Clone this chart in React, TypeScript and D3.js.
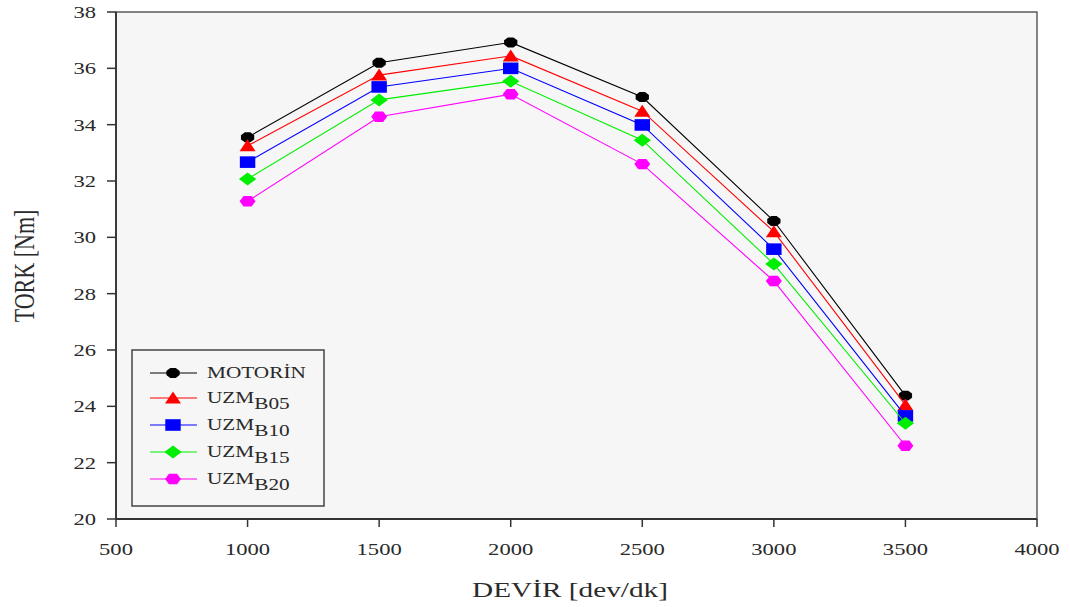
import React from "react";
import * as d3 from "d3";

const rpm = [1000, 1500, 2000, 2500, 3000, 3500];
const motorin = [33.55, 36.2, 36.92, 34.98, 30.58, 24.38];
const uzmB05 = [33.25, 35.76, 36.44, 34.48, 30.2, 24.05];
const uzmB10 = [32.67, 35.34, 36.0, 33.99, 29.58, 23.66];
const uzmB15 = [32.07, 34.88, 35.54, 33.45, 29.05, 23.4];
const uzmB20 = [31.28, 34.28, 35.08, 32.6, 28.45, 22.6];
const xTicks = [500, 1000, 1500, 2000, 2500, 3000, 3500, 4000];
const yTicks = [20, 22, 24, 26, 28, 30, 32, 34, 36, 38];

type Shape = "circle" | "triangle" | "square" | "diamond" | "hexagon";
const series: { name: string; sub: string; values: number[]; color: string; shape: Shape }[] = [
  { name: "MOTORİN", sub: "", values: motorin, color: "#000000", shape: "circle" },
  { name: "UZM", sub: "B05", values: uzmB05, color: "#ff0000", shape: "triangle" },
  { name: "UZM", sub: "B10", values: uzmB10, color: "#0000ff", shape: "square" },
  { name: "UZM", sub: "B15", values: uzmB15, color: "#00ee00", shape: "diamond" },
  { name: "UZM", sub: "B20", values: uzmB20, color: "#ff00ff", shape: "hexagon" },
];

const W = 1070;
const H = 607;
const left = 116;
const right = 1037;
const top = 12;
const bottom = 519;
// glyphs and markers are drawn slightly wide
const SX = 1.33;

const x = d3.scaleLinear().domain([500, 4000]).range([left, right]);
const y = d3.scaleLinear().domain([20, 38]).range([bottom, top]);

function polygon(n: number, r: number, rot: number) {
  const pts: string[] = [];
  for (let i = 0; i < n; i++) {
    const a = rot + (i * 2 * Math.PI) / n;
    pts.push(`${(r * Math.cos(a)).toFixed(2)},${(r * Math.sin(a)).toFixed(2)}`);
  }
  return "M" + pts.join("L") + "Z";
}

function markerPath(shape: Shape) {
  switch (shape) {
    case "circle":
      return polygon(8, 5.4, Math.PI / 8);
    case "triangle":
      return "M0,-6.5L6,5.5L-6,5.5Z";
    case "square":
      return "M-5.8,-5.8L5.8,-5.8L5.8,5.8L-5.8,5.8Z";
    case "diamond":
      return "M0,-6.5L6.5,0L0,6.5L-6.5,0Z";
    case "hexagon":
      return polygon(6, 6, 0);
  }
}

export default function App() {
  const line = d3
    .line<number>()
    .x((_, i) => x(rpm[i]))
    .y((d) => y(d));

  const font = "'Liberation Serif', 'Times New Roman', serif";
  const legendRows = [373, 398, 425, 452, 479];
  const ink = "#2a2a2a";

  return (
    <svg width={W} height={H} style={{ position: "absolute", left: 0, top: 0, background: "#fff" }}>
      <rect x={left} y={top} width={right - left} height={bottom - top} fill="#f6f6f6" stroke="#444" strokeWidth={1.3} />
      <line x1={left} y1={top} x2={left} y2={bottom} stroke="#333" strokeWidth={1.8} />
      <line x1={left} y1={bottom} x2={right} y2={bottom} stroke="#333" strokeWidth={1.8} />

      {yTicks.map((t) => (
        <g key={"y" + t}>
          <line x1={left - 9} x2={left} y1={y(t)} y2={y(t)} stroke="#333" strokeWidth={1.5} />
          <text
            transform={`translate(96,${y(t)}) scale(${SX},1)`}
            dy="0.35em"
            textAnchor="end"
            fontFamily={font}
            fontSize={17}
            fill={ink}
          >
            {t}
          </text>
        </g>
      ))}
      {xTicks.map((t) => (
        <g key={"x" + t}>
          <line x1={x(t)} x2={x(t)} y1={bottom} y2={bottom + 8} stroke="#333" strokeWidth={1.5} />
          <text
            transform={`translate(${x(t)},555) scale(${SX},1)`}
            textAnchor="middle"
            fontFamily={font}
            fontSize={17}
            fill={ink}
          >
            {t}
          </text>
        </g>
      ))}

      <text
        transform={`translate(34,266) rotate(-90) scale(1,${SX})`}
        textAnchor="middle"
        fontFamily={font}
        fontSize={22}
        fill={ink}
      >
        TORK [Nm]
      </text>
      <text
        transform={`translate(570,597) scale(${SX},1)`}
        textAnchor="middle"
        fontFamily={font}
        fontSize={22}
        fill={ink}
      >
        DEVİR [dev/dk]
      </text>

      {series.map((s) => (
        <g key={s.name + s.sub}>
          <path d={line(s.values) || ""} fill="none" stroke={s.color} strokeWidth={1.1} />
          {s.values.map((v, i) => (
            <path
              key={i}
              d={markerPath(s.shape)}
              transform={`translate(${x(rpm[i])},${y(v)}) scale(${SX},1)`}
              fill={s.color}
            />
          ))}
        </g>
      ))}

      <rect x={132} y={350} width={192} height={156} fill="#f6f6f6" stroke="#444" strokeWidth={1.5} />
      {series.map((s, i) => {
        const ly = legendRows[i];
        return (
          <g key={"lg" + i}>
            <line x1={150} x2={197} y1={ly} y2={ly} stroke={s.color} strokeWidth={1.1} />
            <path d={markerPath(s.shape)} transform={`translate(173,${ly}) scale(${SX},1)`} fill={s.color} />
            <text transform={`translate(207,${ly + 5}) scale(${SX},1)`} fontFamily={font} fontSize={16} fill={ink}>
              {s.name}
              {s.sub && (
                <tspan dy={6} fontSize={16}>
                  {s.sub}
                </tspan>
              )}
            </text>
          </g>
        );
      })}
    </svg>
  );
}
